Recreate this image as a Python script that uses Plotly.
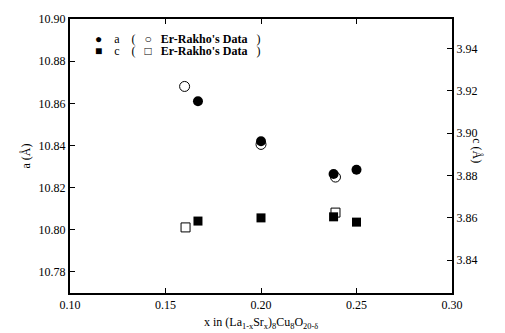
import plotly.graph_objects as go

# Data
x_a = [0.167, 0.200, 0.238, 0.250]
a_vals = [10.861, 10.842, 10.8265, 10.8285]
x_a_er = [0.160, 0.200, 0.239]
a_er = [10.868, 10.8405, 10.825]

x_c = [0.167, 0.200, 0.238, 0.250]
c_vals = [3.8585, 3.8600, 3.8605, 3.8580]
x_c_er = [0.1605, 0.239]
c_er = [3.8555, 3.8625]

x_ticks = [0.10, 0.15, 0.20, 0.25, 0.30]
a_ticks = [10.78, 10.80, 10.82, 10.84, 10.86, 10.88, 10.90]
c_ticks = [3.84, 3.86, 3.88, 3.90, 3.92, 3.94]

legend_rows = [("●", "a", "○"), ("■", "c", "□")]
legend_label = "Er-Rakho's Data"

FONT = "Liberation Serif"

fig = go.Figure()
fig.add_trace(go.Scatter(x=x_a_er, y=a_er, mode="markers",
                         marker=dict(symbol="circle-open", size=10, color="black", line=dict(width=1))))
fig.add_trace(go.Scatter(x=x_a, y=a_vals, mode="markers",
                         marker=dict(symbol="circle", size=10, color="black")))
fig.add_trace(go.Scatter(x=x_c_er, y=c_er, mode="markers", yaxis="y2",
                         marker=dict(symbol="square-open", size=9, color="black", line=dict(width=1))))
fig.add_trace(go.Scatter(x=x_c, y=c_vals, mode="markers", yaxis="y2",
                         marker=dict(symbol="square", size=9, color="black")))

tick_style = dict(ticks="inside", ticklen=5, tickwidth=1, tickcolor="black",
                  tickfont=dict(family=FONT, size=12, color="black"))

fig.update_layout(
    width=505, height=333,
    margin=dict(l=70, r=53, t=17, b=40),
    paper_bgcolor="white", plot_bgcolor="white",
    showlegend=False,
    font=dict(family=FONT, color="black"),
    xaxis=dict(range=[0.10, 0.30], tickvals=x_ticks, ticktext=["%.2f" % v for v in x_ticks],
               showgrid=False, zeroline=False, showline=True, linecolor="black", linewidth=2,
               mirror="ticks", **tick_style),
    yaxis=dict(range=[10.770, 10.900], tickvals=a_ticks, ticktext=["%.2f" % v for v in a_ticks],
               showgrid=False, zeroline=False, showline=True, linecolor="black", linewidth=2,
               **tick_style),
    yaxis2=dict(range=[3.8245, 3.954], tickvals=c_ticks, ticktext=["%.2f" % v for v in c_ticks],
                showgrid=False, zeroline=False, showline=True, linecolor="black", linewidth=2,
                overlaying="y", side="right", **tick_style),
)

ann = []
# axis titles
ann.append(dict(text="a (Å)", xref="paper", yref="paper", x=-0.14, y=0.50, showarrow=False,
                textangle=-90, font=dict(family=FONT, size=12, color="black")))
ann.append(dict(text="c (Å)", xref="paper", yref="paper", x=1.09, y=0.52, showarrow=False,
                textangle=90, font=dict(family=FONT, size=12, color="black")))
ann.append(dict(text="x in (La<sub>1-x</sub>Sr<sub>x</sub>)<sub>8</sub>Cu<sub>8</sub>O<sub>20-δ</sub>",
                xref="paper", yref="paper", x=0.5, y=-0.11, yanchor="middle", showarrow=False,
                font=dict(family=FONT, size=12, color="black")))

# legend rows, one text line each
sp3 = "&nbsp;" * 3
sp4 = "&nbsp;" * 4
for i, (s1, lab, s2) in enumerate(legend_rows):
    yy = 37 + 12 * i
    text = f"{s1}{sp4}{lab}{sp4}({sp3}{s2}{sp3}<b>{legend_label}</b>{sp3})"
    ann.append(dict(text=text, xref="paper", yref="paper",
                    x=(93 - 70) / 382.0, y=(293 - yy) / 276.0,
                    showarrow=False, xanchor="left", yanchor="middle",
                    font=dict(family=FONT, size=12, color="black")))

fig.update_layout(annotations=ann)
fig.write_html("out.html")
